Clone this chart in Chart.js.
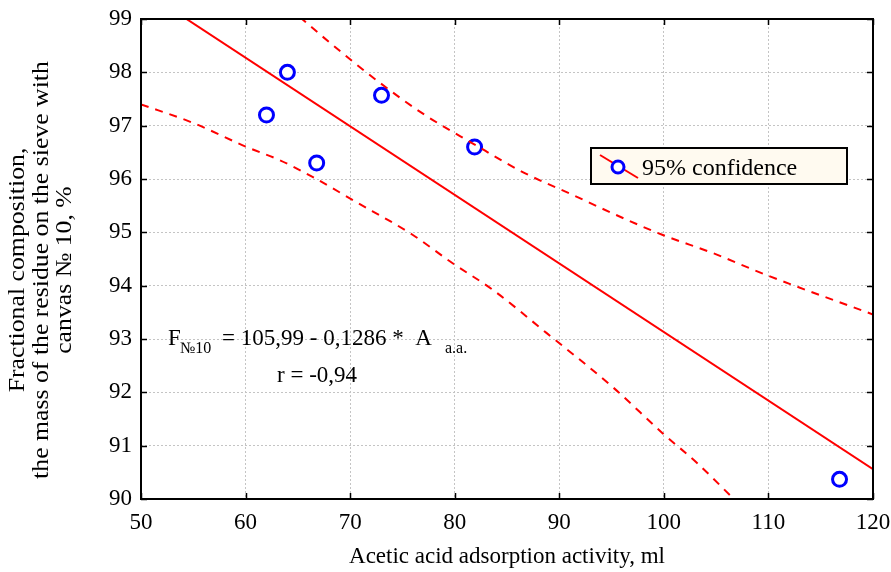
<!DOCTYPE html>
<html>
<head>
<meta charset="utf-8">
<script src="https://cdn.jsdelivr.net/npm/chart.js@4.4.1/dist/chart.umd.min.js"></script>
<style>
  html, body { margin: 0; padding: 0; background: #fff; }
  #wrap { width: 891px; height: 572px; }
</style>
</head>
<body>
<div id="wrap"><canvas id="chart"></canvas></div>
<script>
// tick labels
const xTicks = [50, 60, 70, 80, 90, 100, 110, 120];
const yTicks = [90, 91, 92, 93, 94, 95, 96, 97, 98, 99];

// observed samples
const sampleX = [62, 64, 66.8, 73.0, 81.9, 116.8];
const sampleY = [97.2, 98.0, 96.3, 97.57, 96.6, 90.37];

// regression line F = 105,99 - 0,1286 * A (end points)
const fitX = [50, 120];
const fitY = [99.56, 90.56];

// 95% confidence band
const upperX = [63, 65.4, 68.1, 72.6, 77.0, 81.7, 86.5, 91.3, 95.5, 99.9, 104.7, 109.8, 120];
const upperY = [99.4, 99.0, 98.55, 97.84, 97.22, 96.67, 96.13, 95.7, 95.32, 94.95, 94.61, 94.2, 93.46];
const lowerX = [50, 55, 60.1, 63.3, 66.4, 70.3, 76.0, 79.8, 83.65, 88.8, 95.1, 99.9, 103.2, 107, 108];
const lowerY = [97.4, 97.05, 96.6, 96.35, 96.04, 95.6, 94.95, 94.42, 93.92, 93.11, 92.1, 91.23, 90.67, 89.94, 89.75];

const xTitle = "Acetic acid adsorption activity, ml";
const yTitle = ["Fractional composition,", "the mass of the residue on the sieve with", "canvas \u2116 10, %"];
const legendLabel = "95% confidence";

const RED = "#ff0000";
const BLUE = "#0000ff";
const FONT = '"Liberation Serif", "Times New Roman", serif';

const pts = (xs, ys) => xs.map((x, i) => ({ x, y: ys[i] }));

const framePlugin = {
  id: "frame",
  afterDraw(chart) {
    const { ctx, chartArea: a, scales } = chart;
    const x = scales.x, y = scales.y;
    ctx.save();
    ctx.strokeStyle = "#000";
    ctx.lineWidth = 1.5;
    ctx.beginPath();
    x.ticks.forEach((t) => {
      const px = Math.round(x.getPixelForValue(t.value)) + 0.5;
      ctx.moveTo(px, a.bottom); ctx.lineTo(px, a.bottom - 6);
      ctx.moveTo(px, a.top); ctx.lineTo(px, a.top + 6);
    });
    y.ticks.forEach((t) => {
      const py = Math.round(y.getPixelForValue(t.value)) + 0.5;
      ctx.moveTo(a.left, py); ctx.lineTo(a.left + 6, py);
      ctx.moveTo(a.right, py); ctx.lineTo(a.right - 6, py);
    });
    ctx.stroke();
    ctx.lineWidth = 2;
    ctx.strokeRect(a.left, a.top, a.right - a.left, a.bottom - a.top);

    // y axis title, slightly stretched along its length like the original
    ctx.fillStyle = "#000";
    ctx.font = "23px " + FONT;
    ctx.textAlign = "center";
    ctx.textBaseline = "middle";
    yTitle.forEach((line, i) => {
      ctx.save();
      ctx.translate(18 + i * 23.5, 270);
      ctx.rotate(-Math.PI / 2);
      ctx.scale(1.12, 1);
      ctx.fillText(line, 0, 0);
      ctx.restore();
    });
    ctx.textAlign = "left";
    ctx.textBaseline = "alphabetic";

    // legend box
    const lx = a.left + 450, ly = a.top + 129, lw = 256, lh = 36;
    ctx.lineWidth = 2;
    ctx.strokeStyle = "#000";
    ctx.fillStyle = "#fffaf0";
    ctx.fillRect(lx, ly, lw, lh);
    ctx.strokeRect(lx, ly, lw, lh);
    ctx.strokeStyle = RED;
    ctx.lineWidth = 2;
    ctx.beginPath();
    ctx.moveTo(lx + 9, ly + 7);
    ctx.lineTo(lx + 47, ly + 30);
    ctx.stroke();
    ctx.strokeStyle = BLUE;
    ctx.fillStyle = "#fff";
    ctx.lineWidth = 3;
    ctx.beginPath();
    ctx.arc(lx + 27, ly + 19, 6, 0, Math.PI * 2);
    ctx.fill();
    ctx.stroke();
    ctx.fillStyle = "#000";
    ctx.font = "24px " + FONT;
    ctx.fillText(legendLabel, lx + 51, ly + 27);

    // regression equation
    const big = "23px " + FONT, small = "16px " + FONT;
    const ex = a.left + 27, by = a.top + 326;
    ctx.font = big; ctx.fillText("F", ex, by);
    ctx.font = small; ctx.fillText("\u211610", ex + 12, by + 8);
    ctx.font = big; ctx.fillText("= 105,99 - 0,1286 *  A", ex + 54, by);
    ctx.font = small; ctx.fillText("a.a.", ex + 277, by + 8);
    ctx.font = big; ctx.fillText("r = -0,94", a.left + 136, by + 37);
    ctx.restore();
  },
};

new Chart(document.getElementById("chart"), {
  type: "scatter",
  data: {
    datasets: [
      {
        type: "line",
        data: pts(fitX, fitY),
        borderColor: RED,
        borderWidth: 2,
        pointRadius: 0,
        fill: false,
      },
      {
        type: "line",
        data: pts(upperX, upperY),
        borderColor: RED,
        borderWidth: 2,
        borderDash: [8, 7],
        pointRadius: 0,
        cubicInterpolationMode: "monotone",
        fill: false,
      },
      {
        type: "line",
        data: pts(lowerX, lowerY),
        borderColor: RED,
        borderWidth: 2,
        borderDash: [8, 7],
        pointRadius: 0,
        cubicInterpolationMode: "monotone",
        fill: false,
      },
      {
        data: pts(sampleX, sampleY),
        pointRadius: 7,
        pointBorderWidth: 3,
        pointBorderColor: BLUE,
        pointBackgroundColor: "#fff",
        clip: false,
      },
    ],
  },
  options: {
    responsive: true,
    maintainAspectRatio: false,
    animation: false,
    layout: { padding: { top: 19, right: 18, left: 0, bottom: 0 } },
    plugins: { legend: { display: false }, tooltip: { enabled: false } },
    scales: {
      x: {
        type: "linear",
        min: 50,
        max: 120,
        afterBuildTicks: (s) => { s.ticks = xTicks.map((v) => ({ value: v })); },
        afterFit: (s) => { s.height = 73; s.paddingLeft = 0; s.paddingRight = 0; },
        ticks: { color: "#000", font: { family: FONT, size: 23 }, padding: 10 },
        grid: { color: "#c4c4c4", drawTicks: false },
        border: { display: false, dash: [2, 2] },
        title: { display: true, text: xTitle, color: "#000", font: { family: FONT, size: 23 }, padding: { top: 0, bottom: 1 } },
      },
      y: {
        type: "linear",
        min: 90,
        max: 99,
        afterBuildTicks: (s) => { s.ticks = yTicks.map((v) => ({ value: v })); },
        afterFit: (s) => { s.width = 141; s.paddingTop = 0; s.paddingBottom = 0; },
        ticks: { color: "#000", font: { family: FONT, size: 23 }, padding: 9 },
        grid: { color: "#c4c4c4", drawTicks: false },
        border: { display: false, dash: [2, 2] },
        title: { display: false },
      },
    },
  },
  plugins: [framePlugin],
});
</script>
</body>
</html>
